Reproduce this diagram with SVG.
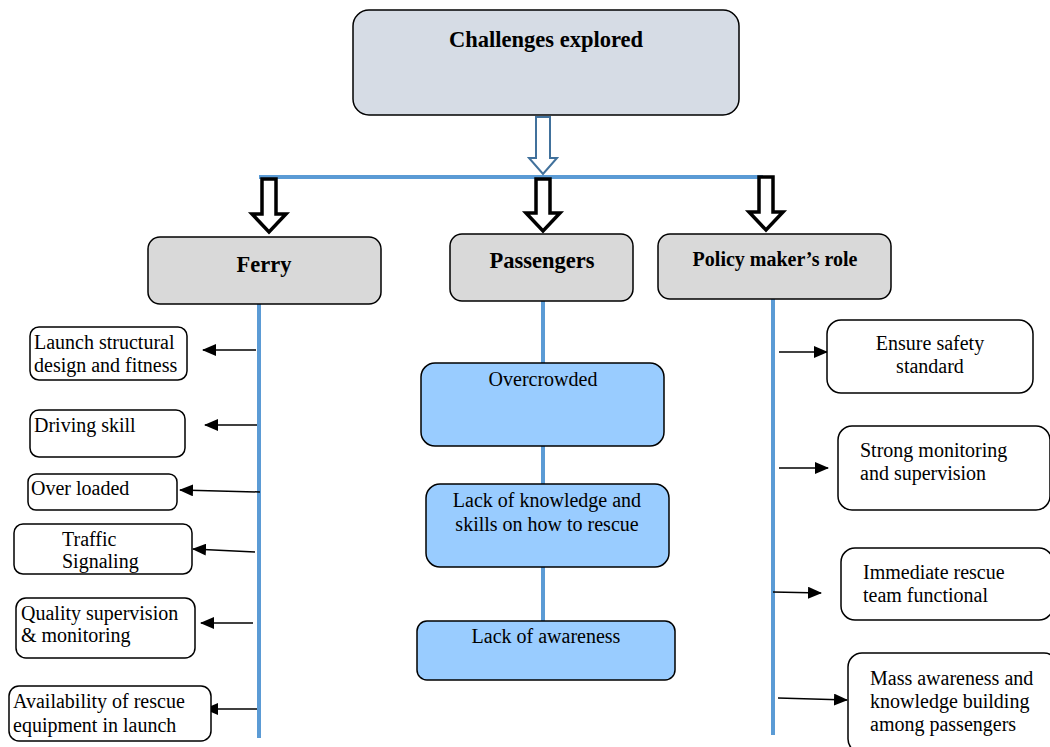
<svg xmlns="http://www.w3.org/2000/svg" width="1050" height="747" viewBox="0 0 1050 747">
<style>
text{font-family:"Liberation Serif","Times New Roman",serif;fill:#000;}
.t{font-size:20px;}
.h{font-size:22.5px;font-weight:bold;}
.c{text-anchor:middle;}
.box{fill:#fff;stroke:#000;stroke-width:1.5;}
.hdr{fill:#d9d9d9;stroke:#000;stroke-width:1.5;}
.blue{fill:#99ccff;stroke:#000;stroke-width:1.5;}
.bl{stroke:#5b9bd5;stroke-width:4;fill:none;}
.ar{stroke:#000;stroke-width:1.5;fill:none;marker-end:url(#ah);}
.big{fill:#fff;stroke:#000;stroke-width:3.5;stroke-linejoin:miter;}
</style>
<defs>
<marker id="ah" markerUnits="userSpaceOnUse" markerWidth="14" markerHeight="12" refX="13" refY="6" orient="auto">
<path d="M0,0 L14,6 L0,12 Z" fill="#000"/>
</marker>
</defs>
<g id="connectors">
<path class="bl" d="M259,177 H763"/>
<path d="M536,117 H550 V158 H557 L543,174 L529,158 H536 Z" fill="#fff" stroke="#41719c" stroke-width="2"/>
<path class="big" d="M262,179 H276 V214 H286 L269,232 L252,214 H262 Z"/>
<path class="big" d="M536,179 H550 V213 H560 L543,231 L526,213 H536 Z"/>
<path class="big" d="M759,177 H773 V212 H783 L766,230 L749,212 H759 Z"/>
<path class="bl" d="M259,304 V738"/>
<path class="bl" d="M543,301 V622"/>
<path class="bl" d="M773,299 V735"/>
<path class="ar" d="M256,350 H203"/>
<path class="ar" d="M257,425 H205"/>
<path class="ar" d="M260,492 L180,490"/>
<path class="ar" d="M255,552 L193,549"/>
<path class="ar" d="M253,623 H201"/>
<path class="ar" d="M257,709 H205"/>
<path class="ar" d="M779,352 H827"/>
<path class="ar" d="M779,468 H828"/>
<path class="ar" d="M773,592 L821,593"/>
<path class="ar" d="M778,698 L847,700"/>
</g>
<g id="challenges">
<rect x="353" y="10" width="386" height="105" rx="16" fill="#d6dce5" stroke="#000" stroke-width="1.5"/>
<text class="h c" x="546" y="47">Challenges explored</text>
</g>
<g id="ferry">
<rect class="hdr" x="148" y="237" width="233" height="67" rx="12"/>
<text class="h c" x="264" y="272">Ferry</text>
</g>
<g id="passengers">
<rect class="hdr" x="450" y="234" width="183" height="67" rx="12"/>
<text class="h c" x="542" y="268">Passengers</text>
</g>
<g id="policy">
<rect class="hdr" x="658" y="234" width="233" height="65" rx="12"/>
<text class="c" x="775" y="266" style="font-size:20px;font-weight:bold">Policy maker’s role</text>
</g>
<g id="launch">
<rect class="box" x="30" y="327" width="157" height="53" rx="9"/>
<text class="t" x="34" y="349">Launch structural</text>
<text class="t" x="34" y="372">design and fitness</text>
</g>
<g id="driving">
<rect class="box" x="30" y="410" width="155" height="47" rx="9"/>
<text class="t" x="34" y="432">Driving skill</text>
</g>
<g id="overloaded">
<rect class="box" x="28" y="474" width="149" height="36" rx="8"/>
<text class="t" x="31" y="495">Over loaded</text>
</g>
<g id="traffic">
<rect class="box" x="14" y="524" width="178" height="50" rx="9"/>
<text class="t" x="62" y="546">Traffic</text>
<text class="t" x="62" y="568">Signaling</text>
</g>
<g id="quality">
<rect class="box" x="16" y="598" width="179" height="60" rx="10"/>
<text class="t" x="21" y="620">Quality supervision</text>
<text class="t" x="21" y="642">&amp; monitoring</text>
</g>
<g id="availability">
<rect class="box" x="9" y="686" width="202" height="55" rx="10"/>
<text class="t" x="13" y="708">Availability of rescue</text>
<text class="t" x="13" y="732">equipment in launch</text>
</g>
<g id="overcrowded">
<rect class="blue" x="421" y="363" width="243" height="83" rx="14"/>
<text class="t c" x="543" y="386">Overcrowded</text>
</g>
<g id="lackknowledge">
<rect class="blue" x="426" y="484" width="243" height="83" rx="14"/>
<text class="t c" x="547" y="507">Lack of knowledge and</text>
<text class="t c" x="547" y="531">skills on how to rescue</text>
</g>
<g id="lackawareness">
<rect class="blue" x="417" y="621" width="258" height="59" rx="10"/>
<text class="t c" x="546" y="643">Lack of awareness</text>
</g>
<g id="ensure">
<rect class="box" x="827" y="320" width="206" height="73" rx="14"/>
<text class="t c" x="930" y="350">Ensure safety</text>
<text class="t c" x="930" y="373">standard</text>
</g>
<g id="strong">
<rect class="box" x="838" y="426" width="212" height="84" rx="14"/>
<text class="t" x="860" y="457">Strong monitoring</text>
<text class="t" x="860" y="480">and supervision</text>
</g>
<g id="immediate">
<rect class="box" x="841" y="548" width="212" height="72" rx="14"/>
<text class="t" x="863" y="579">Immediate rescue</text>
<text class="t" x="863" y="602">team functional</text>
</g>
<g id="mass">
<rect class="box" x="848" y="653" width="210" height="100" rx="14"/>
<text class="t" x="870" y="685">Mass awareness and</text>
<text class="t" x="870" y="708">knowledge building</text>
<text class="t" x="870" y="731">among passengers</text>
</g>
</svg>
